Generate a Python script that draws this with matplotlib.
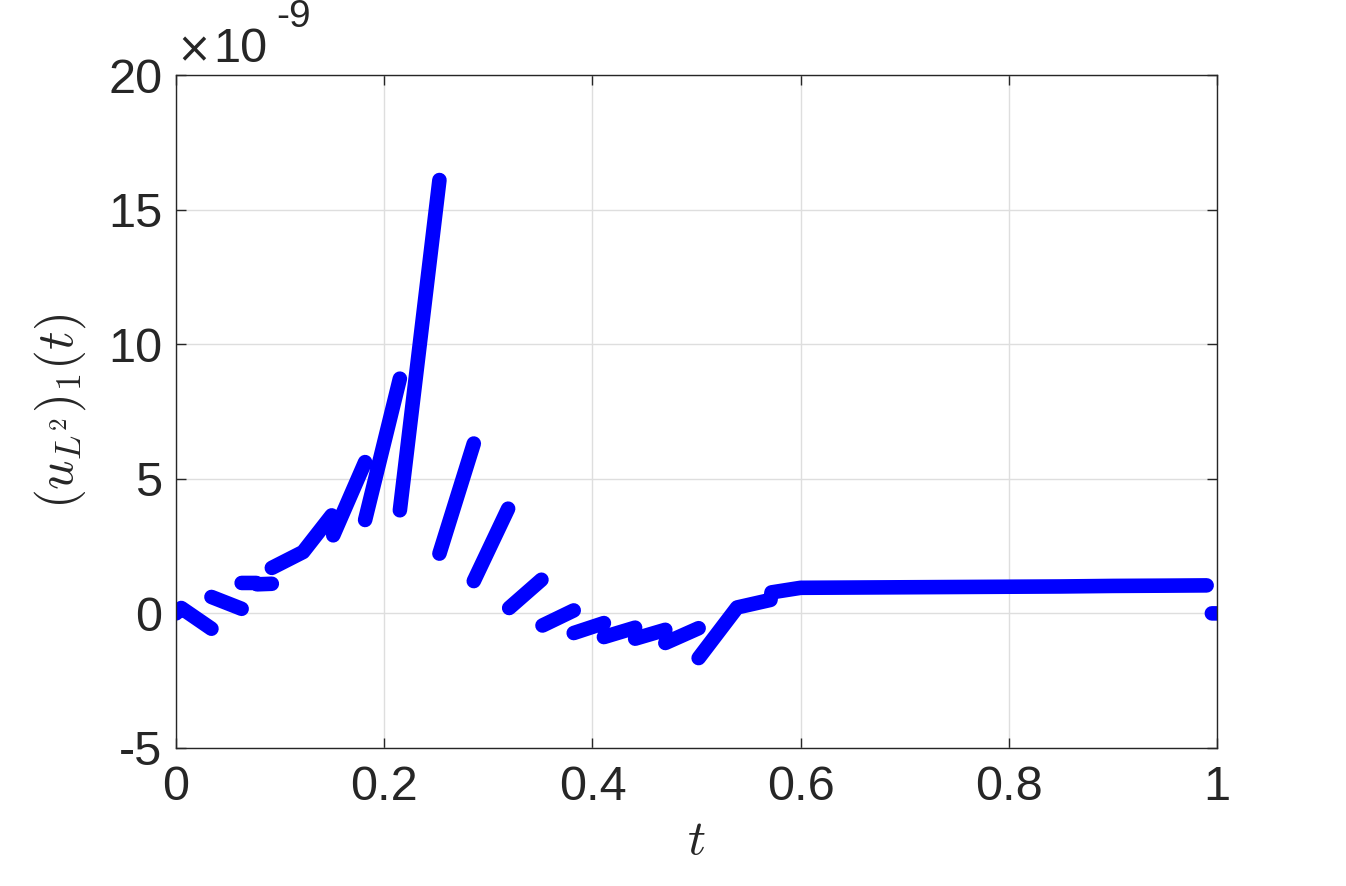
import numpy as np
import matplotlib
matplotlib.use('Agg')
from matplotlib import pyplot as plt
from matplotlib.ticker import FuncFormatter

plt.rcParams['font.family'] = ['Liberation Sans', 'DejaVu Sans']
plt.rcParams['mathtext.fontset'] = 'cm'
plt.rcParams['axes.unicode_minus'] = False

nan = np.nan
# t values, segments split by nan
t = [0.0, 0.005, 0.034, nan,
     0.034, 0.063, nan,
     0.063, 0.077, 0.078, 0.092, nan,
     0.092, 0.122, 0.1495, nan,
     0.151, 0.1816, nan,
     0.1816, 0.215, nan,
     0.215, 0.253, nan,
     0.253, 0.286, nan,
     0.286, 0.319, nan,
     0.320, 0.351, nan,
     0.352, 0.382, nan,
     0.382, 0.411, nan,
     0.411, 0.441, nan,
     0.441, 0.470, nan,
     0.470, 0.502, nan,
     0.502, 0.539, 0.571, 0.572, 0.600,
     0.65, 0.70, 0.75, 0.80, 0.85, 0.90, 0.95, 0.99, nan,
     0.995, 1.0]
# values in units of 1e-9
u = [0.0, 0.2, -0.57, nan,
     0.61, 0.17, nan,
     1.13, 1.13, 1.08, 1.10, nan,
     1.69, 2.28, 3.64, nan,
     2.9, 5.62, nan,
     3.47, 8.72, nan,
     3.83, 16.1, nan,
     2.22, 6.31, nan,
     1.20, 3.89, nan,
     0.20, 1.25, nan,
     -0.45, 0.11, nan,
     -0.73, -0.36, nan,
     -0.88, -0.53, nan,
     -0.94, -0.61, nan,
     -1.10, -0.55, nan,
     -1.66, 0.22, 0.50, 0.78, 0.95,
     0.96, 0.97, 0.98, 0.99, 1.0, 1.02, 1.03, 1.04, nan,
     0.0, 0.0]

scale = 1e-9
tv = np.array(t)
uv = np.array(u) * scale

fig = plt.figure(figsize=(13.46, 8.86), dpi=100)
ax = fig.add_axes([0.1308, 0.1558, 0.9042 - 0.1308, 0.9153 - 0.1558])

ax.plot(tv, uv, color='#0000ff', linewidth=10.5, solid_capstyle='round',
        solid_joinstyle='round')

ax.set_xlim(0, 1)
ax.set_ylim(-5 * scale, 20 * scale)
ax.set_xticks([0, 0.2, 0.4, 0.6, 0.8, 1.0])
ax.set_yticks(np.array([-5, 0, 5, 10, 15, 20]) * scale)
ax.xaxis.set_major_formatter(FuncFormatter(lambda v, p: f'{v:g}'))
ax.yaxis.set_major_formatter(FuncFormatter(lambda v, p: f'{v / scale:.0f}'))

ax.grid(True, color='#dedede', linewidth=1.0)
ax.set_axisbelow(True)
ax.tick_params(direction='in', length=7, width=1.0, top=True, right=True,
               labelsize=35, colors='#262626')
ax.tick_params(axis='x', pad=12)
ax.tick_params(axis='y', pad=10)
for s in ax.spines.values():
    s.set_color('#262626')
    s.set_linewidth(1.0)

ax.set_xlabel(r'$t$', fontsize=36, color='#262626', labelpad=6)
ax.set_ylabel(r'$(u_{L^2})_1(t)$', fontsize=37, color='#262626', labelpad=14)

# exponent label like matlab
ax.text(0.0, 1.005, '\u00d7', transform=ax.transAxes, fontsize=30,
        color='#262626', ha='left', va='bottom', family='DejaVu Sans')
ax.text(0.036, 1.005, '10', transform=ax.transAxes, fontsize=35,
        color='#262626', ha='left', va='bottom')
ax.text(0.096, 1.06, '-9', transform=ax.transAxes, fontsize=28,
        color='#262626', ha='left', va='bottom')

plt.savefig('out.png', dpi=100)
